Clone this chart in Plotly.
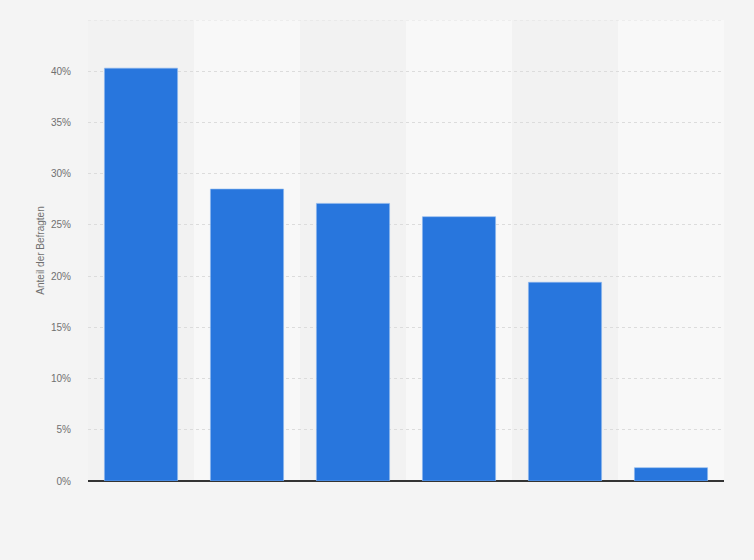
import plotly.graph_objects as go

# data (no category labels are shown on the chart)
categories = ["A", "B", "C", "D", "E", "F"]
values = [40.3, 28.5, 27.1, 25.8, 19.4, 1.3]
y_ticks = [0, 5, 10, 15, 20, 25, 30, 35, 40]
y_tick_labels = [f"{v}%" for v in y_ticks]

fig = go.Figure()

fig.add_trace(go.Bar(
    x=categories,
    y=values,
    marker=dict(color='#2876dd', line=dict(color='#8fb8ef', width=0.6)),
    width=0.69,
    hoverinfo='y'
))

# alternating column bands behind the bars
shapes = []
for i in range(len(categories)):
    shapes.append(dict(
        type='rect', xref='x', yref='paper',
        x0=i - 0.5, x1=i + 0.5, y0=0, y1=1,
        fillcolor='#f2f2f2' if i % 2 == 0 else '#f8f8f8',
        line=dict(width=0), layer='below'
    ))

fig.update_layout(
    width=754,
    height=560,
    margin=dict(l=88, r=30, t=20, b=79),
    paper_bgcolor='#f4f4f4',
    plot_bgcolor='#f4f4f4',
    font=dict(family='Liberation Sans, Arial, sans-serif', color='#707070', size=10),
    shapes=shapes,
    showlegend=False,
    bargap=0.31,
    xaxis=dict(
        showticklabels=False,
        showgrid=False,
        zeroline=False,
        showline=False,
        range=[-0.5, len(categories) - 0.5]
    ),
    yaxis=dict(
        range=[0, 45],
        tickvals=y_ticks,
        ticktext=y_tick_labels,
        tickfont=dict(size=10, color='#707070'),
        ticks='',
        ticklabelstandoff=16,
        showgrid=True,
        gridcolor='#dcdcdc',
        griddash='dot',
        gridwidth=0.8,
        zeroline=True,
        zerolinecolor='#333333',
        zerolinewidth=1.5,
        title=dict(text='Anteil der Befragten', font=dict(size=10, color='#707070'), standoff=4)
    )
)

# dotted line at the top of the plot area (45%)
fig.add_shape(type='line', xref='paper', yref='y', x0=0, x1=1, y0=45, y1=45,
              line=dict(color='#dcdcdc', width=0.8, dash='dot'))

# drop the default page margin so the chart fills the window
fig.write_html("out.html",
               config={'displayModeBar': False},
               post_script="document.body.style.margin='0';document.body.style.background='#f4f4f4';")
